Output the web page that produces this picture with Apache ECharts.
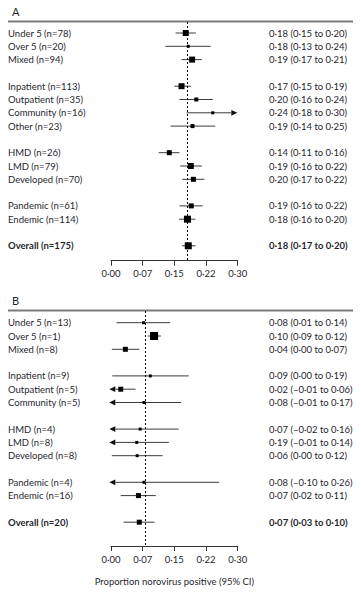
<!DOCTYPE html>
<html><head><meta charset="utf-8">
<script src="https://cdn.jsdelivr.net/npm/echarts@6/dist/echarts.min.js"></script>
<style>html,body{margin:0;padding:0;background:#fff}#c{width:361px;height:595px}</style>
</head><body><div id="c"></div>
<script>
// ---------- data ----------
const tickLabels = ['0·00','0·07','0·15','0·22','0·30'];

const A_categories = ['Under 5 (n=78)','Over 5 (n=20)','Mixed (n=94)','','Inpatient (n=113)','Outpatient (n=35)','Community (n=16)','Other (n=23)','','HMD (n=26)','LMD (n=79)','Developed (n=70)','','Pandemic (n=61)','Endemic (n=114)','','Overall (n=175)'];
const A_est    = [0.177,0.183,0.192,null,0.167,0.202,0.241,0.193,null,0.138,0.189,0.195,null,0.190,0.181,null,0.183];
const A_lo     = [0.153,0.129,0.167,null,0.150,0.162,0.179,0.141,null,0.113,0.164,0.169,null,0.162,0.161,null,0.168];
const A_hi     = [0.201,0.236,0.215,null,0.189,0.241,0.304,0.247,null,0.162,0.215,0.221,null,0.217,0.200,null,0.200];
const A_weight = [6,3,6,null,6,4,3,4,null,5,6,5,null,5,7,null,7];
const A_text   = ['0·18 (0·15 to 0·20)','0·18 (0·13 to 0·24)','0·19 (0·17 to 0·21)','','0·17 (0·15 to 0·19)','0·20 (0·16 to 0·24)','0·24 (0·18 to 0·30)','0·19 (0·14 to 0·25)','','0·14 (0·11 to 0·16)','0·19 (0·16 to 0·22)','0·20 (0·17 to 0·22)','','0·19 (0·16 to 0·22)','0·18 (0·16 to 0·20)','','0·18 (0·17 to 0·20)'];
const A_ref = 0.180;

const B_categories = ['Under 5 (n=13)','Over 5 (n=1)','Mixed (n=8)','','Inpatient (n=9)','Outpatient (n=5)','Community (n=5)','','HMD (n=4)','LMD (n=8)','Developed (n=8)','','Pandemic (n=4)','Endemic (n=16)','','Overall (n=20)'];
const B_est    = [0.077,0.102,0.034,null,0.093,0.023,0.078,null,0.069,0.061,0.062,null,0.078,0.065,null,0.067];
const B_lo     = [0.013,0.087,0.002,null,0.003,-0.01,-0.01,null,-0.02,-0.01,0.002,null,-0.10,0.023,null,0.030];
const B_hi     = [0.140,0.118,0.067,null,0.184,0.058,0.166,null,0.160,0.137,0.122,null,0.256,0.106,null,0.103];
const B_weight = [3,8,5,null,3,5,3,null,3,3,3,null,3,5,null,5];
const B_text   = ['0·08 (0·01 to 0·14)','0·10 (0·09 to 0·12)','0·04 (0·00 to 0·07)','','0·09 (0·00 to 0·19)','0·02 (–0·01 to 0·06)','0·08 (–0·01 to 0·17)','','0·07 (–0·02 to 0·16)','0·19 (–0·01 to 0·14)','0·06 (0·00 to 0·12)','','0·08 (–0·10 to 0·26)','0·07 (0·02 to 0·11)','','0·07 (0·03 to 0·10)'];
const B_ref = 0.078;

const axisTitle = 'Proportion norovirus positive (95% CI)';

// ---------- layout / style ----------
const FONT = 'Lato';
const FS = 9.5;
const TXT = '#1f1f2e';
const XMIN = 0, XMAX = 0.30;
const GRID_LEFT = 111, GRID_W = 126.7;
const LEFT_TEXT_X = 8, RIGHT_TEXT_X = 269;

function makeData(cat, est, lo, hi, w, txt) {
  const out = [];
  for (let i = 0; i < cat.length; i++) {
    if (est[i] == null) continue;
    out.push({ value: [i, est[i], lo[i], hi[i], w[i]], name: cat[i], txt: txt[i], last: i === cat.length - 1 });
  }
  return out;
}

function makeRender(data) {
  return function (params, api) {
    const d = data[params.dataIndex];
    const i = api.value(0);
    const est = api.value(1), lo = api.value(2), hi = api.value(3), w = api.value(4);
    const y = api.coord([est, i])[1];
    const xMinPx = api.coord([XMIN, i])[0];
    const xMaxPx = api.coord([XMAX, i])[0];
    const children = [];
    let x1 = api.coord([lo, i])[0];
    let x2 = api.coord([hi, i])[0];
    const AL = 6, AH = 2.9;
    if (lo < XMIN) {
      const tip = xMinPx - 1.7;
      x1 = tip + AL;
      children.push({ type: 'polygon', shape: { points: [[tip, y], [tip + AL, y - AH], [tip + AL, y + AH]] }, style: { fill: '#111' } });
    }
    if (hi > XMAX) {
      const tip = xMaxPx - 0.4;
      x2 = tip - AL;
      children.push({ type: 'polygon', shape: { points: [[tip, y], [tip - AL, y - AH], [tip - AL, y + AH]] }, style: { fill: '#111' } });
    }
    children.push({ type: 'line', shape: { x1: x1, y1: y, x2: x2, y2: y }, style: { stroke: '#3a3a3a', lineWidth: 1 } });
    const cx = api.coord([est, i])[0];
    children.push({ type: 'rect', shape: { x: cx - w / 2, y: y - w / 2, width: w, height: w }, style: { fill: '#000' } });
    const fw = d.last ? 'bold' : 'normal';
    children.push({ type: 'text', style: { text: d.name, x: LEFT_TEXT_X, y: y, fill: TXT, fontFamily: FONT, fontSize: FS, fontWeight: fw, align: 'left', verticalAlign: 'middle' } });
    children.push({ type: 'text', style: { text: d.txt, x: RIGHT_TEXT_X, y: y, fill: TXT, fontFamily: FONT, fontSize: FS, fontWeight: fw, align: 'left', verticalAlign: 'middle' } });
    return { type: 'group', children: children };
  };
}

function xAxisCfg(gridIndex, withName) {
  const c = {
    type: 'value', gridIndex: gridIndex, min: XMIN, max: XMAX, interval: 0.075, position: 'bottom',
    axisLine: { show: true, onZero: false, lineStyle: { color: '#333', width: 1 } },
    axisTick: { show: true, length: 5, lineStyle: { color: '#333', width: 1 } },
    splitLine: { show: false },
    axisLabel: { margin: 8, color: TXT, fontFamily: FONT, fontSize: FS,
      formatter: function (v) { return tickLabels[Math.round(v / 0.075)]; } }
  };
  if (withName) {
    c.name = axisTitle; c.nameLocation = 'middle'; c.nameGap = 30;
    c.nameTextStyle = { color: TXT, fontFamily: FONT, fontSize: FS };
  }
  return c;
}

const dA = makeData(A_categories, A_est, A_lo, A_hi, A_weight, A_text);
const dB = makeData(B_categories, B_est, B_lo, B_hi, B_weight, B_text);

const ROW = 13.3;
const A_top = 21, A_first = 33, A_axis = 260.7;
const B_top = 310, B_first = 322.7, B_axis = 546;

const chart = echarts.init(document.getElementById('c'), null, { renderer: 'svg' });
chart.setOption({
  animation: false,
  backgroundColor: '#fff',
  title: [
    { text: 'A', left: 7, top: 1, textStyle: { fontFamily: FONT, fontSize: 11, fontWeight: 'normal', color: TXT } },
    { text: 'B', left: 7, top: 290, textStyle: { fontFamily: FONT, fontSize: 11, fontWeight: 'normal', color: TXT } }
  ],
  graphic: [
    { type: 'line', shape: { x1: 8, y1: A_top + 0.5, x2: 353, y2: A_top + 0.5 }, style: { stroke: '#7a7a7a', lineWidth: 2 } },
    { type: 'line', shape: { x1: 8, y1: B_top + 0.5, x2: 353, y2: B_top + 0.5 }, style: { stroke: '#7a7a7a', lineWidth: 2 } }
  ],
  grid: [
    { left: GRID_LEFT, width: GRID_W, top: A_top + 1, height: A_axis - A_top - 1 },
    { left: GRID_LEFT, width: GRID_W, top: B_top + 1, height: B_axis - B_top - 1 }
  ],
  xAxis: [xAxisCfg(0, false), xAxisCfg(1, true)],
  yAxis: [
    { type: 'value', gridIndex: 0, inverse: true, show: false,
      min: -(A_first - A_top - 1) / ROW, max: (A_axis - A_first) / ROW },
    { type: 'value', gridIndex: 1, inverse: true, show: false,
      min: -(B_first - B_top - 1) / ROW, max: (B_axis - B_first) / ROW }
  ],
  series: [
    { type: 'custom', xAxisIndex: 0, yAxisIndex: 0, clip: false, data: dA,
      encode: { x: [1, 2, 3], y: 0 }, renderItem: makeRender(dA),
      markLine: { silent: true, symbol: 'none', label: { show: false },
        lineStyle: { type: [2, 2], color: '#000', width: 1 }, data: [{ xAxis: A_ref }] } },
    { type: 'custom', xAxisIndex: 1, yAxisIndex: 1, clip: false, data: dB,
      encode: { x: [1, 2, 3], y: 0 }, renderItem: makeRender(dB),
      markLine: { silent: true, symbol: 'none', label: { show: false },
        lineStyle: { type: [2, 2], color: '#000', width: 1 }, data: [{ xAxis: B_ref }] } }
  ]
});
</script>
</body></html>
